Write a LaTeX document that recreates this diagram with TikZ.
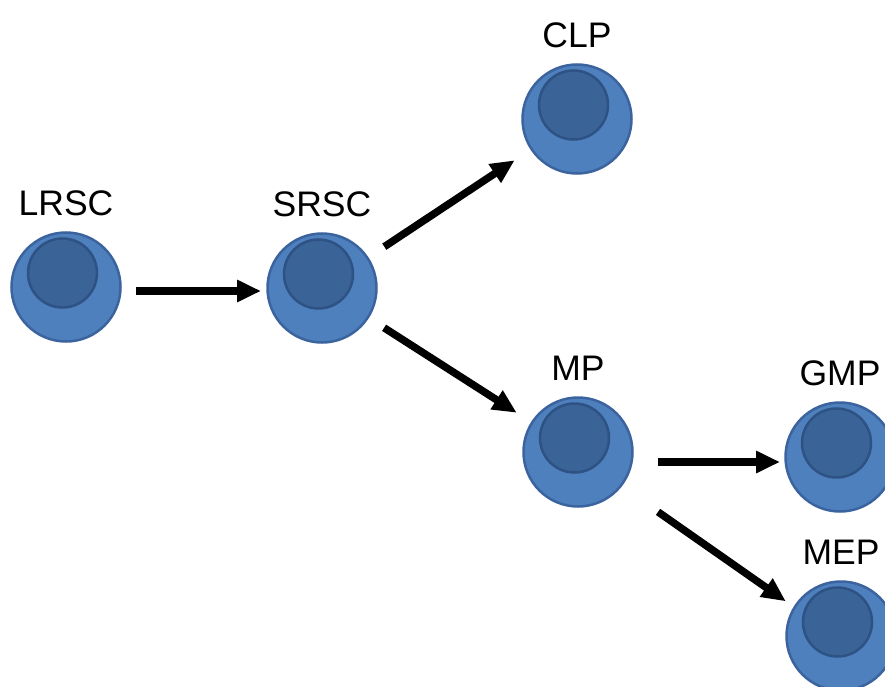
\documentclass[tikz,border=0pt]{standalone}
\usepackage{fontspec}
\setmainfont{Liberation Sans}
\usepackage{tikz}
\usetikzlibrary{arrows.meta,positioning}
\definecolor{cell-fill}{HTML}{4F80BE}
\definecolor{cell-rim}{HTML}{3B639E}
\definecolor{nucleus-fill}{HTML}{3A6497}
\definecolor{nucleus-rim}{HTML}{2D5283}
\tikzset{
  cell/.style={circle, draw=cell-rim, fill=cell-fill, line width=2.5pt, minimum size=109pt, inner sep=0pt,
    path picture={\draw[nucleus] ([shift={(-3.5pt,14pt)}]path picture bounding box.center) circle (34.5pt);}},
  nucleus/.style={draw=nucleus-rim, fill=nucleus-fill, line width=2.5pt},
  cell-label/.style={font=\fontsize{35.5}{40}\selectfont, label distance=12pt},
  lineage/.style={-{Triangle[length=24pt, width=21pt]}, line width=7.5pt, black}
}
\begin{document}
\begin{tikzpicture}[x=1pt, y=-1pt]
  \useasboundingbox (0,0) rectangle (885,687);
  \foreach \name/\x/\y/\title in {lrsc/66/287/LRSC, srsc/322/288/SRSC, clp/577/119/CLP, mp/578/452/MP, gmp/840/457/GMP, mep/841/636/MEP} {
    \node[cell, label={[cell-label]above:\title}] (\name) at (\x,\y) {};
  }
  % horizontal arrows run a little below the centres, so shorten from the centre
  \draw[lineage, shorten <=70pt, shorten >=61pt] ([yshift=-4pt]lrsc.center) -- ([yshift=-3pt]srsc.center);
  \draw[lineage, shorten <=19pt, shorten >=19pt] (srsc) -- (clp);
  \draw[lineage, shorten <=18pt, shorten >=17pt] (srsc) -- (mp);
  \draw[lineage, shorten <=80pt, shorten >=60pt] ([yshift=-10pt]mp.center) -- ([yshift=-5pt]gmp.center);
  \draw[lineage, shorten <=94pt, shorten >=71pt] ([shift={(3pt,-6pt)}]mp.center) -- ([shift={(3pt,-6pt)}]mep.center);
\end{tikzpicture}
\end{document}
